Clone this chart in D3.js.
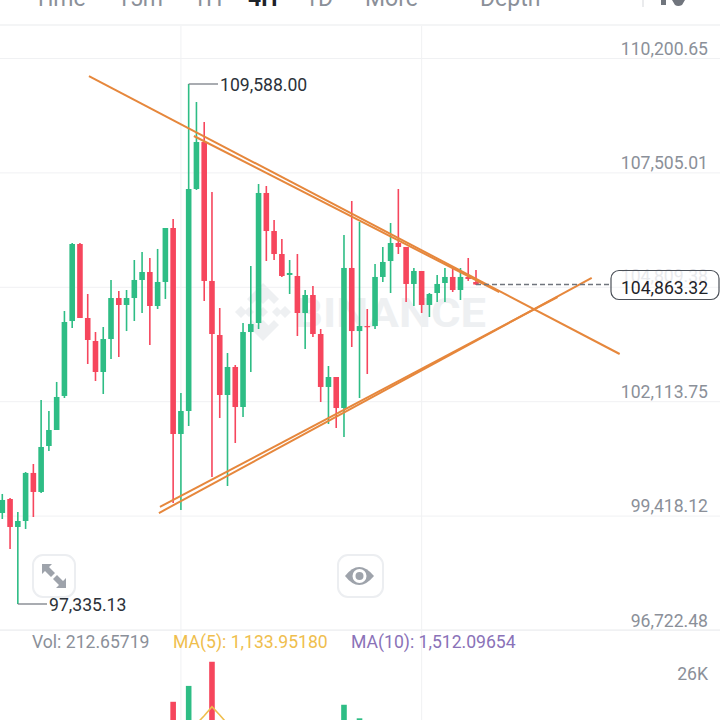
<!DOCTYPE html>
<html lang="en">
<head>
<meta charset="UTF-8">
<title>BTC 4h chart</title>
<script src="https://cdn.jsdelivr.net/npm/d3@7/dist/d3.min.js"></script>
<style>
  html, body { margin: 0; padding: 0; background: #fff; overflow: hidden; }
  svg { display: block; font-family: Roboto, sans-serif; }
</style>
</head>
<body>
<svg id="chart" width="720" height="720"></svg>
<script>
// Candles, oldest first
const opens = [99479,99809,99150,99291,100423,99975,101058,101435,102237,104003,105818,104074,103532,102802,103579,104545,104381,104545,104970,105158,104357,104923,106195,101341,101883,107114,108221,104947,103673,102260,102920,101977,103744,103956,107020,106124,105582,105088,105064,104192,104616,103697,102449,102684,101953,105253,103767,103885,103885,105041,105417,105841,105748,104876,105182,104381,104663,104899,105041,104734,105041,104923];
const highs = [99928,99833,99503,100446,100634,102142,101883,102567,104239,105841,105841,104640,103744,103862,104970,104710,104734,105441,105629,105488,105701,106195,106407,102307,109588,109164,108693,107043,104310,103249,102967,103956,105300,107232,107185,106383,105936,105441,105582,104734,104828,103815,102943,102684,106030,106831,106336,104286,105347,105748,106313,107114,105748,105253,105182,104663,105088,105253,105229,105253,105488,105205];
const lows = [99338,98631,97335.13,99103,99385,99952,100941,101435,102189,103838,104074,102990,102590,102284,103108,103155,103767,104003,104192,103438,104286,104522,99715,99550,101529,107091,104475,100328,101718,100116,101129,101741,102802,103815,105417,105441,105041,104640,103650,103344,103626,102095,101576,101482,101270,103391,102189,102755,103815,104923,104663,105582,104451,104357,104192,104098,104451,104451,104687,104498,104947,104852];
const closes = [99786,99150,99291,100423,99975,101035,101435,102213,103980,105818,104074,103556,102802,103579,104545,104381,104545,104970,105158,104357,104923,106195,101341,101883,107114,108221,104947,103697,102260,102920,101977,103744,103932,107020,106124,105582,105064,105135,104192,104616,103697,102449,102684,101953,105253,103767,103885,103862,105041,105394,105841,105748,104876,105182,104381,104640,104876,105041,104734,105041,104994,104863.32];

// Volume pane: only the bars tall enough to show above the crop
const volumeIndex = [22, 24, 27, 44, 46];
const volumes = [17600, 22400, 29700, 16700, 12600];
const ma5Index = [25, 26, 27, 28, 29];
const ma5Values = [10900, 13400, 16100, 13600, 10900];

// Hand drawn trend lines as [candle index, price]
const upperLine = [[11.16, 109776], [79.5, 103226]];
const upperLine2 = [[24.67, 108363], [64, 104687]];
const lowerLine = [[20.17, 99479], [75.9, 105017]];
const lowerLine2 = [[20.3, 99621], [71.5, 104569]];

const priceTicks = [110200.65, 107505.01, 104809.38, 102113.75, 99418.12, 96722.48];
const timeGridIndex = [23, 54];
const lastPrice = 104863.32;
const highPrice = 109588;
const highIndex = 24;
const lowPrice = 97335.13;
const lowIndex = 2;

const tabs = ['Time', '15m', '1H', '4H', '1D', 'More', 'Depth'];
const tabX = [34, 117, 193, 248, 305, 365, 480];

const UP = '#2ebd85';
const DOWN = '#f6465d';
const TREND = '#e6873c';
const GRID = '#f0f1f3';
const LABEL = '#8b9099';
const DARK = '#2b3139';
const FONT = 17.6;

const fmt = d3.format(',.2f');
const svg = d3.select('#chart');

const x = d3.scaleLinear().domain([0, 61]).range([2.3, 476]);
const y = d3.scaleLinear().domain([96722.48, 110200.65]).range([630, 58]);
const vol = d3.scaleLinear().domain([0, 26000]).range([760, 674]);

// Tabs cut off by the top of the screenshot
svg.append('g').selectAll('text').data(tabs).join('text')
  .attr('x', (d, i) => tabX[i])
  .attr('y', 6)
  .attr('font-size', 23)
  .attr('font-weight', d => d === '4H' ? 700 : 400)
  .attr('fill', d => d === '4H' ? '#1e2329' : LABEL)
  .text(d => d);
svg.append('rect').attr('x', 642.5).attr('y', 0).attr('width', 1).attr('height', 7).attr('fill', '#d5d8dc');
svg.append('rect').attr('x', 661).attr('y', 0).attr('width', 5).attr('height', 5).attr('fill', '#70757d');
svg.append('path').attr('d', 'M672 0H685L682 5Q678 7 675 5Z').attr('fill', '#70757d');

// Grid
svg.append('rect').attr('x', 0).attr('y', 24).attr('width', 720).attr('height', 2).attr('fill', '#f4f5f6');
svg.append('rect').attr('x', 0).attr('y', 629).attr('width', 720).attr('height', 2).attr('fill', '#f4f5f6');

svg.append('g').selectAll('line').data(timeGridIndex).join('line')
  .attr('x1', d => x(d)).attr('x2', d => x(d))
  .attr('y1', 26).attr('y2', 720)
  .attr('stroke', GRID).attr('stroke-width', 1);

const axis = d3.axisLeft(y).tickValues(priceTicks).tickSize(720).tickFormat(fmt);
const axisG = svg.append('g').attr('transform', 'translate(720,0)').call(axis);
axisG.select('.domain').remove();
axisG.selectAll('.tick line').attr('stroke', GRID);
axisG.selectAll('.tick text')
  .attr('x', -12)
  .attr('dy', -4)
  .attr('font-family', 'Roboto, sans-serif')
  .attr('font-size', FONT)
  .attr('fill', LABEL);
axisG.selectAll('.tick').filter(d => d === 104809.38).select('text')
  .attr('dy', -5)
  .attr('fill', '#dfe1e5');

// Watermark
const mark = svg.append('g').attr('fill', '#eef0f2');
const diamonds = [[263, 298, 6], [249, 312, 5], [277, 312, 5], [263, 312, 5], [263, 326, 6]];
mark.selectAll('path').data(diamonds).join('path')
  .attr('d', d => `M${d[0]} ${d[1] - d[2]}L${d[0] + d[2]} ${d[1]}L${d[0]} ${d[1] + d[2]}L${d[0] - d[2]} ${d[1]}Z`);
mark.append('path').attr('d', 'M263 283L279 299L274 304L263 293L252 304L247 299Z');
mark.append('path').attr('d', 'M263 341L279 325L274 320L263 331L252 320L247 325Z');
mark.append('path').attr('d', 'M235 312L241 306L247 312L241 318Z');
mark.append('path').attr('d', 'M279 312L285 306L291 312L285 318Z');
mark.append('text')
  .attr('x', 294).attr('y', 327)
  .attr('font-size', 40).attr('font-weight', 700)
  .attr('textLength', 192).attr('lengthAdjust', 'spacingAndGlyphs')
  .text('BINANCE');

// Candles
const candles = d3.range(opens.length);
const isUp = i => closes[i] >= opens[i];
const colorOf = i => isUp(i) ? UP : DOWN;

svg.append('g').selectAll('line').data(candles).join('line')
  .attr('x1', i => x(i)).attr('x2', i => x(i))
  .attr('y1', i => y(highs[i])).attr('y2', i => y(lows[i]))
  .attr('stroke', colorOf).attr('stroke-width', 1.6);

svg.append('g').selectAll('rect').data(candles).join('rect')
  .attr('x', i => x(i) - 2.8)
  .attr('width', 5.6)
  .attr('y', i => y(Math.max(opens[i], closes[i])))
  .attr('height', i => Math.max(1.2, Math.abs(y(opens[i]) - y(closes[i]))))
  .attr('fill', colorOf);

// Trend lines
const trendPath = d3.line().x(d => x(d[0])).y(d => y(d[1]));
svg.append('g').selectAll('path')
  .data([upperLine, upperLine2, lowerLine, lowerLine2]).join('path')
  .attr('d', trendPath)
  .attr('fill', 'none')
  .attr('stroke', TREND)
  .attr('stroke-width', 2);

// High and low callouts
svg.append('path')
  .attr('d', `M${x(highIndex)} ${y(highPrice)}H218`)
  .attr('stroke', '#70757d').attr('stroke-width', 1.2).attr('fill', 'none');
svg.append('text').attr('x', 220).attr('y', y(highPrice) + 7)
  .attr('font-size', FONT).attr('fill', DARK).text(fmt(highPrice));
svg.append('path')
  .attr('d', `M${x(lowIndex)} ${y(lowPrice)}H47`)
  .attr('stroke', '#70757d').attr('stroke-width', 1.2).attr('fill', 'none');
svg.append('text').attr('x', 49).attr('y', y(lowPrice) + 7)
  .attr('font-size', FONT).attr('fill', DARK).text(fmt(lowPrice));

// Last price
svg.append('line')
  .attr('x1', x(61)).attr('x2', 611)
  .attr('y1', y(lastPrice)).attr('y2', y(lastPrice))
  .attr('stroke', '#70757d').attr('stroke-width', 1.3).attr('stroke-dasharray', '5 3');
svg.append('rect')
  .attr('x', 611).attr('y', 270.5).attr('width', 108).attr('height', 29).attr('rx', 8)
  .attr('fill', '#fff').attr('fill-opacity', 0.3)
  .attr('stroke', '#4b5058').attr('stroke-width', 1.2);
svg.append('text').attr('x', 664.5).attr('y', 294)
  .attr('text-anchor', 'middle')
  .attr('font-size', FONT).attr('fill', '#1e2329').text(fmt(lastPrice));

// Buttons
const btn = svg.append('g');
btn.append('rect').attr('x', 33).attr('y', 555).attr('width', 42).attr('height', 42).attr('rx', 10)
  .attr('fill', '#fff').attr('stroke', '#eceef1').attr('stroke-width', 2);
btn.append('path').attr('fill', '#9ea3ab')
  .attr('d', 'M42 564H52L49 567L55 573L51 577L45 571L42 574Z');
btn.append('path').attr('fill', '#9ea3ab')
  .attr('d', 'M66 588H56L59 585L53 579L57 575L63 581L66 578Z');
btn.append('rect').attr('x', 338).attr('y', 555).attr('width', 45).attr('height', 42).attr('rx', 10)
  .attr('fill', '#fff').attr('stroke', '#eceef1').attr('stroke-width', 2);
btn.append('path').attr('fill', '#9ea3ab')
  .attr('d', 'M345 576Q359 558 374 576Q359 594 345 576Z');
btn.append('circle').attr('cx', 359.5).attr('cy', 576).attr('r', 7).attr('fill', '#fff');
btn.append('circle').attr('cx', 359.5).attr('cy', 576).attr('r', 4).attr('fill', '#9ea3ab');

// Volume pane
const legend = [
  ['Vol: 212.65719', 32, '#8b9099'],
  ['MA(5): 1,133.95180', 173, '#efbe4d'],
  ['MA(10): 1,512.09654', 351, '#8a72b8']
];
svg.append('g').selectAll('text').data(legend).join('text')
  .attr('x', d => d[1]).attr('y', 648)
  .attr('font-size', FONT).attr('fill', d => d[2])
  .text(d => d[0]);
svg.append('text').attr('x', 708).attr('y', 680).attr('text-anchor', 'end')
  .attr('font-size', FONT).attr('fill', LABEL).text('26K');

svg.append('g').selectAll('rect').data(volumes).join('rect')
  .attr('x', (d, i) => x(volumeIndex[i]) - 2.8)
  .attr('width', 5.6)
  .attr('y', d => vol(d))
  .attr('height', d => vol(0) - vol(d))
  .attr('fill', (d, i) => colorOf(volumeIndex[i]));

svg.append('path')
  .datum(ma5Values)
  .attr('d', d3.line().x((d, i) => x(ma5Index[i])).y(d => vol(d)))
  .attr('fill', 'none')
  .attr('stroke', '#efbe4d')
  .attr('stroke-width', 1.6);
</script>
</body>
</html>
